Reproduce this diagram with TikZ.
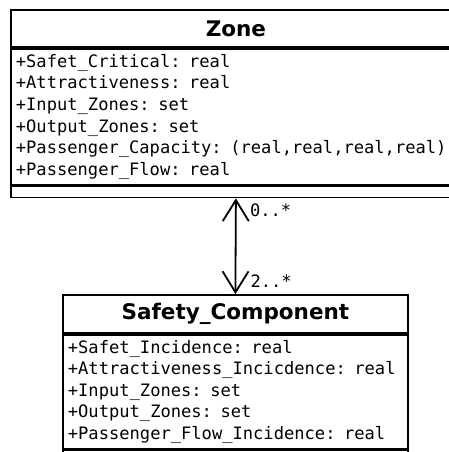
\documentclass[tikz,border=0pt]{standalone}
\usepackage{fontspec}
\setmainfont{DejaVu Sans}
\setmonofont{DejaVu Sans Mono}
\usetikzlibrary{arrows.meta,positioning}
\tikzstyle{box} = [draw, line width=1.8pt, inner sep=0pt, anchor=north west]
\tikzstyle{classname} = [box, font=\fontsize{21.5}{26}\selectfont\bfseries]
\tikzstyle{attrs} = [box, inner xsep=5pt, align=left, font=\fontsize{17.1}{21.6}\selectfont\ttfamily]
\tikzstyle{ops} = [box, minimum height=11pt]
\tikzstyle{mult} = [inner sep=0pt, anchor=west, font=\fontsize{17.1}{21.6}\selectfont\ttfamily]
\tikzstyle{assoc} = [line width=1.8pt, {Straight Barb[length=21pt,width=26pt]}-{Straight Barb[length=21pt,width=26pt]}]

\begin{document}
\begin{tikzpicture}[x=1pt,y=1pt]
\useasboundingbox (0,0) rectangle (448,-452);

% Zone
\node[classname, minimum width=450pt, minimum height=36.5pt] (zone) at (10,-9.5) {Zone};
\node[attrs, text width=440pt, minimum height=136pt, below=0pt of zone.south west, anchor=north west] (zoneattrs) {%
+Safet\_Critical: real\\
+Attractiveness: real\\
+Input\_Zones: set\\
+Output\_Zones: set\\
+Passenger\_Capacity: (real,real,real,real)\\
+Passenger\_Flow: real};
\node[ops, minimum width=450pt, below=0pt of zoneattrs.south west, anchor=north west] (zoneops) {};

% Safety_Component
\node[classname, minimum width=345pt, minimum height=38pt] (sc) at (62,-294) {Safety\_Component};
\node[attrs, text width=335pt, minimum height=114pt, below=0pt of sc.south west, anchor=north west] (scattrs) {%
+Safet\_Incidence: real\\
+Attractiveness\_Incicdence: real\\
+Input\_Zones: set\\
+Output\_Zones: set\\
+Passenger\_Flow\_Incidence: real};
\node[ops, minimum width=345pt, below=0pt of scattrs.south west, anchor=north west] (scops) {};

% association
\draw[assoc] (zoneops.south) -- (sc.north);
\node[mult, below right=12pt and 14pt of zoneops.south, anchor=west] (zonemult) {0..*};
\node[mult, above right=13pt and 15pt of sc.north, anchor=west] (scmult) {2..*};

\end{tikzpicture}
\end{document}
